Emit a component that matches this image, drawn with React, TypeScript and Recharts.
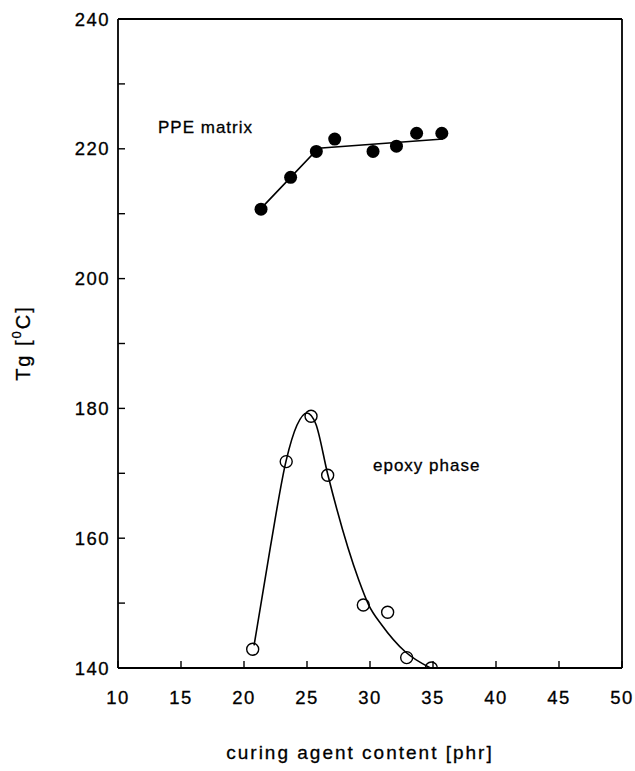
import { ComposedChart, Line, Scatter, XAxis, YAxis, ReferenceLine } from 'recharts';

// measured points (curing agent content [phr], Tg [°C])
const ppePoints = [
  { x: 21.35, y: 210.7 },
  { x: 23.7, y: 215.6 },
  { x: 25.74, y: 219.6 },
  { x: 27.2, y: 221.5 },
  { x: 30.24, y: 219.6 },
  { x: 32.1, y: 220.4 },
  { x: 33.7, y: 222.4 },
  { x: 35.7, y: 222.4 },
];

const ppeFit = [
  { x: 21.3, y: 210.7 },
  { x: 23.7, y: 215.6 },
  { x: 25.9, y: 220.1 },
  { x: 35.8, y: 221.5 },
];

const epoxyPoints = [
  { x: 20.69, y: 142.9 },
  { x: 23.35, y: 171.8 },
  { x: 25.32, y: 178.8 },
  { x: 26.64, y: 169.7 },
  { x: 29.47, y: 149.7 },
  { x: 31.4, y: 148.6 },
  { x: 32.91, y: 141.6 },
  { x: 34.87, y: 140 },
];

// hand-drawn fit through the epoxy phase
const epoxyCurve = [
  { x: 20.8, y: 143.5 },
  { x: 22.1, y: 158.7 },
  { x: 23.35, y: 172 },
  { x: 24.2, y: 177.4 },
  { x: 25.0, y: 179.3 },
  { x: 25.7, y: 177.6 },
  { x: 26.64, y: 169.9 },
  { x: 29.1, y: 153.6 },
  { x: 29.9, y: 149.7 },
  { x: 30.95, y: 146.6 },
  { x: 32.8, y: 142.5 },
  { x: 34.8, y: 140 },
];

const xTicks = [10, 15, 20, 25, 30, 35, 40, 45, 50];
const yTicks = [140, 150, 160, 170, 180, 190, 200, 210, 220, 230, 240];

const FONT = '"Liberation Sans", Arial, Helvetica, sans-serif';
const tickStyle = { fontSize: 18.5, fill: '#000', fontFamily: FONT, letterSpacing: 1.5, stroke: '#000', strokeWidth: 0.3 };

const FilledDot = (p: any) => <circle cx={p.cx} cy={p.cy} r={6.5} fill="#000" />;
const OpenDot = (p: any) => <circle cx={p.cx} cy={p.cy} r={6} fill="none" stroke="#000" strokeWidth={1.4} />;

const YTitle = () => (
  <text
    x={25}
    y={343}
    transform="rotate(-90 25 343)"
    textAnchor="middle"
    dominantBaseline="middle"
    fontFamily={FONT}
    fontSize={20}
    letterSpacing={2}
    fill="#000"
    stroke="#000"
    strokeWidth={0.3}
  >
    Tg  [<tspan fontSize={13} dy={-7}>0</tspan>
    <tspan dy={7}>C]</tspan>
  </text>
);

const noteStyle: any = {
  position: 'absolute',
  fontFamily: FONT,
  fontSize: 17,
  letterSpacing: 1,
  color: '#000',
  lineHeight: '24px',
  whiteSpace: 'nowrap',
  WebkitTextStroke: '0.3px #000',
};

export default function App() {
  return (
    <div style={{ position: 'absolute', left: 0, top: 0, width: 635, height: 771, background: '#fff' }}>
      <ComposedChart width={635} height={771} margin={{ top: 19, right: 13, bottom: 73, left: 58 }}>
        <XAxis
          dataKey="x"
          type="number"
          domain={[10, 50]}
          ticks={xTicks}
          allowDataOverflow
          stroke="#000"
          axisLine={{ stroke: '#000', strokeWidth: 1.8 }}
          tickLine={{ stroke: '#000', strokeWidth: 1.4 }}
          tickSize={-7}
          tickMargin={30}
          tick={tickStyle}
          interval={0}
          label={{
            value: 'curing agent content [phr]',
            position: 'bottom',
            offset: 48,
            dx: -10,
            style: { fontSize: 19, fill: '#000', fontFamily: FONT, letterSpacing: 2, stroke: '#000', strokeWidth: 0.3 },
          }}
        />
        <YAxis
          type="number"
          domain={[140, 240]}
          ticks={yTicks}
          allowDataOverflow
          width={60}
          axisLine={{ stroke: '#000', strokeWidth: 1.8 }}
          tickLine={{ stroke: '#000', strokeWidth: 1.4 }}
          tickSize={-7}
          tickMargin={15}
          tick={tickStyle}
          interval={0}
          tickFormatter={(v: number) => (v % 20 === 0 ? String(v) : '')}
          label={{ content: () => <YTitle /> }}
        />
        <ReferenceLine y={240} stroke="#000" strokeWidth={1.8} />
        <ReferenceLine x={50} stroke="#000" strokeWidth={1.8} />
        <Line data={ppeFit} dataKey="y" type="linear" stroke="#000" strokeWidth={1.6} dot={false} isAnimationActive={false} />
        <Line data={epoxyCurve} dataKey="y" type="monotone" stroke="#000" strokeWidth={1.6} dot={false} isAnimationActive={false} />
        <Scatter data={ppePoints} dataKey="y" shape={FilledDot} isAnimationActive={false} />
        <Scatter data={epoxyPoints} dataKey="y" shape={OpenDot} isAnimationActive={false} />
      </ComposedChart>
      <div style={{ ...noteStyle, left: 158, top: 116 }}>PPE matrix</div>
      <div style={{ ...noteStyle, left: 373, top: 454 }}>epoxy phase</div>
    </div>
  );
}
